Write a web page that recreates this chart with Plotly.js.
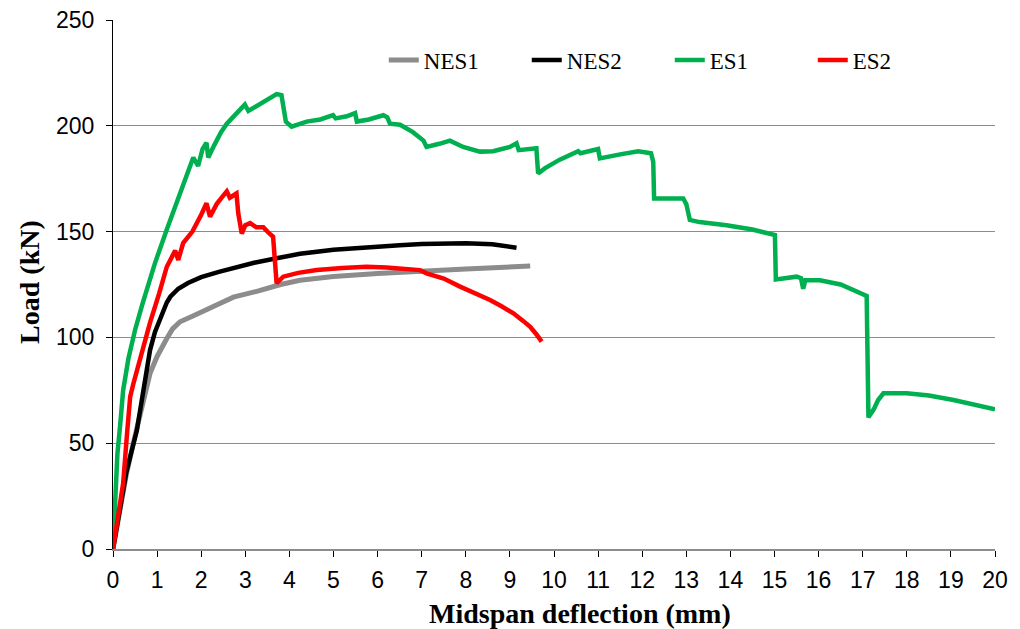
<!DOCTYPE html>
<html>
<head>
<meta charset="utf-8">
<script src="https://cdn.plot.ly/plotly-3.0.1.min.js"></script>
<style>html,body{margin:0;padding:0;background:#fff;}#chart{width:1020px;height:629px;}</style>
</head>
<body>
<div id="chart"></div>
<script>
// NES1 (grey)
const nes1X = [0, 0.1, 0.16, 0.3, 0.46, 0.65, 0.84, 1.0, 1.12, 1.22, 1.35, 1.52, 1.8, 2.2, 2.73, 3.3, 3.8, 4.24, 5.0, 6.0, 6.5, 7.0, 8.0, 9.0, 9.46];
const nes1Y = [0, 12, 21, 35, 50, 66, 83, 91, 96, 99.5, 104, 107.4, 110, 114, 119, 122, 125, 127, 128.8, 130.2, 130.5, 131.3, 132.3, 133.2, 133.7];
// NES2 (black)
const nes2X = [0, 0.1, 0.16, 0.3, 0.54, 0.7, 0.84, 0.95, 1.05, 1.14, 1.22, 1.3, 1.4, 1.48, 1.7, 2.0, 2.4, 2.73, 3.2, 3.71, 4.24, 5.0, 5.5, 6.0, 6.5, 7.0, 7.5, 8.0, 8.6, 9.15];
const nes2Y = [0, 12, 21.6, 36, 56, 78, 94, 102.5, 108, 113, 116.5, 119.2, 121.5, 123, 125.7, 128.5, 131, 133, 135.3, 137.4, 139.5, 141.4, 142.3, 143, 143.6, 144.1, 144.3, 144.5, 144, 142.4];
// ES1 (green)
const es1X = [0, 0.05, 0.1, 0.16, 0.23, 0.35, 0.5, 0.67, 0.95, 1.22, 1.44, 1.65, 1.82, 1.93, 2.03, 2.12, 2.16, 2.3, 2.45, 2.58, 2.8, 2.99, 3.07, 3.3, 3.55, 3.71, 3.82, 3.88, 3.92, 4.05, 4.39, 4.7, 4.99, 5.05, 5.3, 5.49, 5.53, 5.8, 6.13, 6.22, 6.28, 6.51, 6.8, 7.04, 7.11, 7.4, 7.64, 7.94, 8.32, 8.62, 9.0, 9.15, 9.2, 9.6, 9.64, 9.8, 10.13, 10.55, 10.6, 11.0, 11.04, 11.5, 11.91, 12.2, 12.25, 12.27, 12.6, 12.93, 13.0, 13.08, 13.3, 13.91, 14.5, 15.01, 15.03, 15.5, 15.6, 15.65, 15.7, 16.03, 16.5, 17.09, 17.13, 17.25, 17.35, 17.47, 18.0, 18.5, 19.06, 19.5, 20.0];
const es1Y = [0, 30, 45, 58, 75, 90, 103.5, 116, 135, 151, 163, 175, 185, 181, 189, 192, 185, 191, 197, 201, 206, 210, 207, 210, 213, 215, 214.5, 206, 202, 199.6, 202, 203, 205, 203.5, 204.5, 206, 202, 203, 205, 204, 201, 200.5, 197, 193, 190, 191.5, 193, 190, 187.8, 188, 190, 191.7, 188.5, 189.4, 177.5, 180, 184, 188, 187, 189, 184.6, 186.5, 188, 187, 183, 165.7, 165.7, 165.7, 163, 155.5, 154.5, 153, 151, 148.4, 127.4, 128.7, 128, 123, 127, 127, 125, 119.6, 62.2, 66, 70.4, 73.6, 73.6, 72.5, 70.4, 68.5, 66];
// ES2 (red)
const es2X = [0, 0.1, 0.23, 0.32, 0.39, 0.46, 0.65, 0.84, 1.05, 1.22, 1.41, 1.48, 1.59, 1.8, 2.0, 2.12, 2.2, 2.35, 2.5, 2.58, 2.65, 2.8, 2.84, 2.88, 2.92, 3.0, 3.11, 3.25, 3.41, 3.55, 3.63, 3.71, 3.86, 4.2, 4.62, 5.2, 5.75, 6.2, 6.51, 6.96, 7.11, 7.5, 7.87, 8.2, 8.55, 8.8, 9.08, 9.3, 9.46, 9.6, 9.72];
const es2Y = [0, 15, 31, 55, 72, 78, 93, 107, 121, 133.4, 141, 136.6, 144.6, 150, 158, 163.4, 157, 163, 167, 169, 166, 168, 158.7, 154, 149, 153, 154, 152, 152, 149, 147.6, 125.6, 128.7, 130.5, 131.8, 132.8, 133.4, 133, 132.6, 131.8, 130.3, 127.8, 124, 121, 117.7, 114.8, 111.4, 107.8, 105, 101.5, 98];

const seriesNames = ['NES1', 'NES2', 'ES1', 'ES2'];
const seriesColors = ['#8c8c8c', '#000000', '#00b050', '#ff0000'];
const xTitle = 'Midspan deflection (mm)';
const yTitle = 'Load (kN)';

const traces = [
  {x: nes1X, y: nes1Y, name: seriesNames[0], mode: 'lines', line: {color: seriesColors[0], width: 5}},
  {x: nes2X, y: nes2Y, name: seriesNames[1], mode: 'lines', line: {color: seriesColors[1], width: 4.5}},
  {x: es1X, y: es1Y, name: seriesNames[2], mode: 'lines', line: {color: seriesColors[2], width: 4.5}},
  {x: es2X, y: es2Y, name: seriesNames[3], mode: 'lines', line: {color: seriesColors[3], width: 4.5}}
];

const titleFont = {family: 'Liberation Serif, Times New Roman, serif', size: 28, color: '#000', weight: 'bold'};

const layout = {
  width: 1020, height: 629,
  margin: {l: 113, r: 25, t: 20, b: 80},
  paper_bgcolor: '#ffffff', plot_bgcolor: '#ffffff',
  showlegend: true,
  legend: {orientation: 'h', x: 0.307, y: 0.965, xanchor: 'left', yanchor: 'top',
    font: {family: 'Liberation Serif, Times New Roman, serif', size: 23, color: '#000'},
    bgcolor: 'rgba(0,0,0,0)', entrywidth: 98, entrywidthmode: 'pixels', tracegroupgap: 0},
  xaxis: {
    range: [0, 20], dtick: 1, tick0: 0,
    showgrid: false, zeroline: false,
    showline: true, linecolor: '#8c8c8c', linewidth: 2,
    ticks: 'outside', ticklen: 6, tickcolor: '#000', tickwidth: 1,
    ticklabelstandoff: 3,
    tickfont: {family: 'Liberation Sans Narrow, Arial Narrow, Liberation Sans, Arial, sans-serif', size: 23, color: '#000'}
  },
  yaxis: {
    range: [0, 250], dtick: 50, tick0: 0,
    showgrid: true, gridcolor: '#8c8c8c', gridwidth: 1,
    zeroline: false,
    showline: true, linecolor: '#000', linewidth: 1,
    ticks: 'outside', ticklen: 6, tickcolor: '#000', tickwidth: 1,
    ticklabelstandoff: 7,
    tickfont: {family: 'Liberation Sans, Arial, sans-serif', size: 23, color: '#000'}
  },
  annotations: [
    {text: xTitle, xref: 'paper', yref: 'paper', x: 0.5295, y: -0.121, xanchor: 'center', yanchor: 'middle', showarrow: false, font: titleFont},
    {text: yTitle, xref: 'paper', yref: 'paper', x: -0.094, y: 0.505, xanchor: 'center', yanchor: 'middle', textangle: -90, showarrow: false, font: titleFont}
  ]
};

Plotly.newPlot('chart', traces, layout, {displayModeBar: false, staticPlot: true});
</script>
</body>
</html>
